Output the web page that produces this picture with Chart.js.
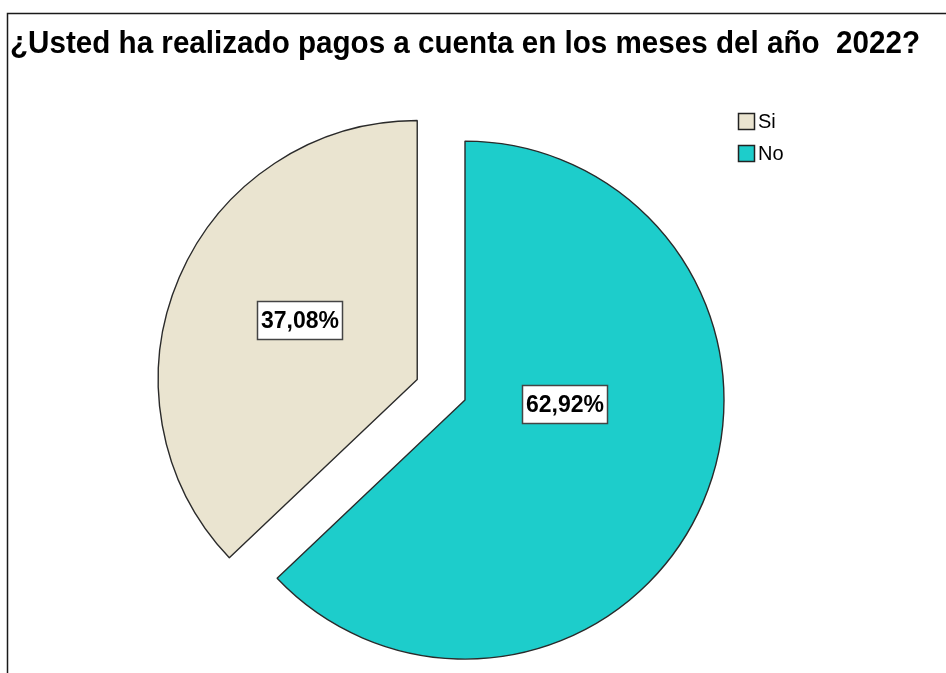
<!DOCTYPE html>
<html>
<head>
<meta charset="utf-8">
<script src="https://cdn.jsdelivr.net/npm/chart.js@4.4.1/dist/chart.umd.min.js"></script>
<style>
  html, body { margin: 0; padding: 0; background: #ffffff; }
  #wrap { position: relative; width: 946px; height: 673px; overflow: hidden; }
  canvas { display: block; }
</style>
</head>
<body>
<div id="wrap"><canvas id="chart" width="946" height="673"></canvas></div>
<script>
// ---- data ----
const chartTitle = '¿Usted ha realizado pagos a cuenta en los meses del año  2022?';
const categories = ['Si', 'No'];
const percentages = [37.08, 62.92];
const sliceColors = ['#EAE4D0', '#1DCDCB'];

const fmtPct = v => v.toFixed(2).replace('.', ',') + '%';

// frame around the chart (SPSS style viewer box)
const framePlugin = {
  id: 'frame',
  beforeDraw(chart, args, o) {
    const ctx = chart.ctx;
    ctx.save();
    ctx.strokeStyle = o.color;
    ctx.lineWidth = o.width;
    ctx.beginPath();
    ctx.moveTo(o.left, chart.height);
    ctx.lineTo(o.left, o.top);
    ctx.lineTo(chart.width, o.top);
    ctx.stroke();
    ctx.restore();
  }
};

// pull selected slices out along their bisector
const explodePlugin = {
  id: 'explode',
  afterDatasetsUpdate(chart, args, o) {
    const meta = chart.getDatasetMeta(0);
    meta.data.forEach((arc, i) => {
      const d = o.amounts[i] || 0;
      if (!d) return;
      const mid = (arc.startAngle + arc.endAngle) / 2;
      arc.x += Math.cos(mid) * d;
      arc.y += Math.sin(mid) * d;
    });
  }
};

// boxed percentage labels
const sliceLabelPlugin = {
  id: 'sliceLabels',
  afterDatasetsDraw(chart, args, o) {
    const ctx = chart.ctx;
    const meta = chart.getDatasetMeta(0);
    const ds = chart.data.datasets[0];
    ctx.save();
    ctx.font = o.font;
    ctx.textAlign = 'center';
    ctx.textBaseline = 'middle';
    meta.data.forEach((arc, i) => {
      const p = o.placement[i];
      const ang = (arc.startAngle + arc.endAngle) / 2 + p.turn * Math.PI / 180;
      const r = arc.outerRadius * p.dist;
      const cx = arc.x + Math.cos(ang) * r;
      const cy = arc.y + Math.sin(ang) * r;
      const txt = fmtPct(ds.data[i]);
      const w = o.boxWidth, h = o.boxHeight;
      const x0 = Math.round(cx - w / 2) + 0.5, y0 = Math.round(cy - h / 2) + 0.5;
      ctx.fillStyle = '#ffffff';
      ctx.fillRect(x0, y0, w, h);
      ctx.strokeStyle = o.borderColor;
      ctx.lineWidth = o.borderWidth;
      ctx.strokeRect(x0, y0, w, h);
      ctx.fillStyle = o.color;
      ctx.fillText(txt, x0 + w / 2, y0 + h / 2 + 1);
    });
    ctx.restore();
  }
};

// legend in the top-right corner
const cornerLegendPlugin = {
  id: 'cornerLegend',
  afterDraw(chart, args, o) {
    const ctx = chart.ctx;
    const ds = chart.data.datasets[0];
    ctx.save();
    ctx.font = o.font;
    ctx.textBaseline = 'middle';
    ctx.textAlign = 'left';
    chart.data.labels.forEach((lab, i) => {
      const y = o.y + i * o.step;
      ctx.fillStyle = ds.backgroundColor[i];
      ctx.fillRect(o.x + 0.5, y + 0.5, o.box, o.box);
      ctx.strokeStyle = o.borderColor;
      ctx.lineWidth = 1.5;
      ctx.strokeRect(o.x + 0.5, y + 0.5, o.box, o.box);
      ctx.fillStyle = o.color;
      ctx.fillText(lab, o.x + o.box + o.gap, y + o.box / 2 + 1);
    });
    ctx.restore();
  }
};

new Chart(document.getElementById('chart'), {
  type: 'pie',
  data: {
    labels: categories,
    datasets: [{
      data: percentages,
      backgroundColor: sliceColors,
      borderColor: '#2a2a2a',
      borderWidth: 1.4
    }]
  },
  options: {
    responsive: false,
    animation: false,
    events: [],
    rotation: -360 * percentages[0] / 100,
    radius: 259,
    layout: { padding: { left: 10, right: 26, top: 0, bottom: 0 } },
    plugins: {
      legend: { display: false },
      tooltip: { enabled: false },
      title: {
        display: true,
        text: chartTitle,
        align: 'start',
        color: '#000000',
        font: { family: "'Liberation Sans', Arial, sans-serif", size: 31, weight: 'bold', lineHeight: 1.2 },
        padding: { top: 26, bottom: 64 }
      },
      frame: { left: 7.5, top: 13.5, width: 1.5, color: '#1a1a1a' },
      explode: { amounts: [52, 0] },
      sliceLabels: {
        font: "bold 23px 'Liberation Sans', Arial, sans-serif",
        color: '#000000',
        borderColor: '#444444',
        borderWidth: 1.5,
        boxWidth: 85,
        boxHeight: 38,
        placement: [ { dist: 0.51, turn: 3.7 }, { dist: 0.386, turn: -21 } ]
      },
      cornerLegend: {
        x: 738, y: 113, box: 16, step: 32, gap: 4,
        font: "20px 'Liberation Sans', Arial, sans-serif",
        color: '#000000', borderColor: '#222222'
      }
    }
  },
  plugins: [framePlugin, explodePlugin, sliceLabelPlugin, cornerLegendPlugin]
});
</script>
</body>
</html>
